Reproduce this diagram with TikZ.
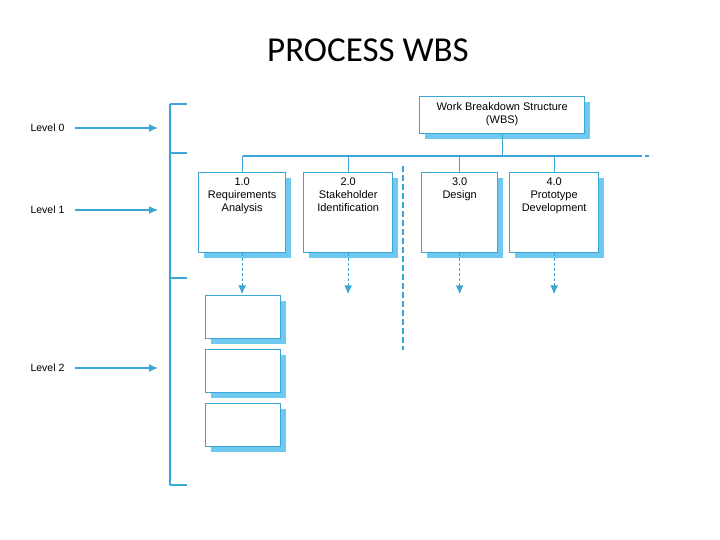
\documentclass[tikz,border=0pt]{standalone}
\usepackage{fontspec}
\setmainfont{Liberation Sans}
\newfontfamily\titlefont{Carlito}
\usetikzlibrary{arrows.meta}
\definecolor{wbsline}{RGB}{60,165,215}
\definecolor{wbsshade}{RGB}{110,200,240}
\begin{document}
\begin{tikzpicture}[x=1pt,y=-1pt,
  ln/.style={draw=wbsline,line width=1.3pt},
  arr/.style={ln,-{Latex[length=9pt,width=8pt]}},
  darr/.style={arr,dash pattern=on 3pt off 2pt},
  lbl/.style={font=\fontsize{10.5}{12}\selectfont,anchor=west},
  box/.style={draw=wbsline,line width=1.3pt,fill=white,anchor=north west,inner sep=0pt},
  txt/.style={align=center,anchor=north,inner sep=0pt,yshift=-6pt,font=\fontsize{11}{13}\selectfont}]
\useasboundingbox (0,0) rectangle (720,540);
\node[font=\titlefont\fontsize{35}{40}\selectfont] (title) at (368,50) {PROCESS WBS};
% shadows and boxes
\newcommand{\wbsbox}[6]{%
  \fill[wbsshade] (#2+6,#3+6) rectangle (#4+6,#5+6);
  \node[box,minimum width=#4-#2,minimum height=#5-#3] (#1) at (#2,#3) {};
  \node[txt] (#1x) at (#1.north) {#6};}
\wbsbox{w}{419}{96}{584}{133}{Work Breakdown Structure\\(WBS)}
\wbsbox{a}{198}{172}{285}{252}{1.0\\Requirements\\Analysis}
\wbsbox{b}{303}{172}{392}{252}{2.0\\Stakeholder\\Identification}
\wbsbox{c}{421}{172}{497}{252}{3.0\\Design}
\wbsbox{d}{509}{172}{598}{252}{4.0\\Prototype\\Development}
\wbsbox{e}{205}{295}{280}{338}{}
\wbsbox{f}{205}{349}{280}{392}{}
\wbsbox{g}{205}{403}{280}{446}{}
% tree lines
\coordinate (h0) at (243,156);
\coordinate (h1) at (638,156);
\coordinate (h2) at (652,156);
\draw[ln] (w.south) -- (w.south |- h0);
\draw[ln] (h0) -- (h1);
\draw[ln,dash pattern=on 4pt off 3pt] (h1) -- (h2);
\foreach \n in {a,b,c,d}{
  \draw[ln] (\n.north |- h0) -- (\n.north);
  \coordinate (\n t) at ([yshift=-41pt]\n.south);
  \draw[darr] (\n.south) -- (\n t);}
\coordinate (v0) at (403,166);
\coordinate (v1) at (403,350);
\draw[ln,dash pattern=on 6pt off 3pt] (v0) -- (v1);
% level bracket
\coordinate (k0) at (170,104);
\coordinate (k1) at (170,485);
\draw[ln] (k0) -- (k1);
\foreach \y in {104,153,278,485}{\draw[ln] (170,\y) -- (187,\y);}
% level labels
\node[lbl] (l0) at (27,128) {Level 0};
\node[lbl] (l1) at (27,210) {Level 1};
\node[lbl] (l2) at (27,368) {Level 2};
\foreach \n in {l0,l1,l2}{
  \coordinate (\n e) at (\n.west -| 158,0);
  \draw[arr] ([xshift=48pt]\n.west) -- (\n e);}
\end{tikzpicture}
\end{document}
